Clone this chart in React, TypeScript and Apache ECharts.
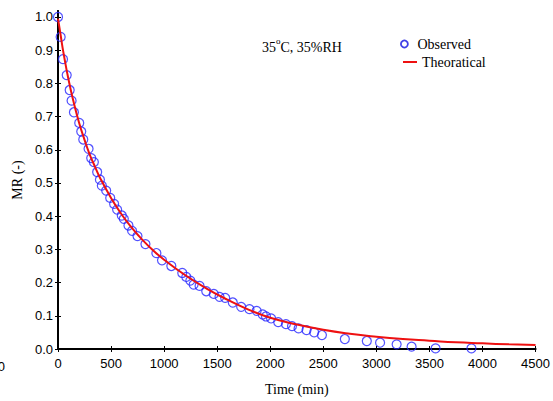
import React, { useEffect, useRef } from "react";
import * as echarts from "echarts";

const obsTime = [0, 25, 47, 82, 110, 128, 150, 200, 219, 238, 288, 313, 338, 369, 395, 413, 454, 492, 529, 557, 601, 620, 664, 698, 749, 824, 927, 980, 1068, 1171, 1209, 1247, 1278, 1334, 1397, 1468, 1522, 1575, 1647, 1726, 1804, 1872, 1929, 1960, 2008, 2075, 2148, 2205, 2267, 2342, 2414, 2487, 2703, 2910, 3035, 3191, 3332, 3558, 3896];
const obsMR = [1.0, 0.94, 0.873, 0.825, 0.78, 0.748, 0.713, 0.681, 0.655, 0.631, 0.603, 0.575, 0.563, 0.533, 0.51, 0.492, 0.477, 0.455, 0.437, 0.42, 0.402, 0.392, 0.372, 0.356, 0.34, 0.316, 0.289, 0.267, 0.25, 0.229, 0.217, 0.206, 0.194, 0.19, 0.174, 0.166, 0.157, 0.154, 0.14, 0.127, 0.12, 0.115, 0.104, 0.098, 0.092, 0.081, 0.075, 0.069, 0.062, 0.057, 0.05, 0.042, 0.03, 0.024, 0.019, 0.014, 0.007, 0.002, 0.002];

const fitTime = [0, 25, 50, 100, 150, 200, 250, 300, 350, 400, 500, 600, 700, 800, 900, 1000, 1200, 1400, 1600, 1800, 2000, 2250, 2500, 2750, 3000, 3250, 3500, 3750, 4000, 4250, 4500];
const fitMR = [0.995, 0.945, 0.895, 0.81, 0.74, 0.68, 0.63, 0.585, 0.548, 0.513, 0.455, 0.405, 0.363, 0.327, 0.296, 0.269, 0.222, 0.182, 0.148, 0.118, 0.094, 0.074, 0.058, 0.046, 0.037, 0.030, 0.025, 0.020, 0.017, 0.014, 0.012];

const xTicks = [0, 500, 1000, 1500, 2000, 2500, 3000, 3500, 4000, 4500];
const yTicks = [0, 0.1, 0.2, 0.3, 0.4, 0.5, 0.6, 0.7, 0.8, 0.9, 1.0];

const BLUE = "#2626ff";
const RED = "#ee1111";
const SERIF = "'Liberation Serif', 'Times New Roman', serif";
const SANS = "'Liberation Sans', Arial, sans-serif";

export default function App() {
  const ref = useRef<HTMLDivElement>(null);
  useEffect(() => {
    if (!ref.current) return;
    const chart = echarts.init(ref.current, undefined, { renderer: "svg" });
    const axisLine = { show: true, lineStyle: { color: "#000", width: 2 } };
    chart.setOption({
      animation: false,
      backgroundColor: "#fff",
      grid: { left: 58, right: 16, top: 11, bottom: 50 },
      xAxis: [
        {
          type: "value",
          min: 0,
          max: 4500,
          interval: 500,
          position: "bottom",
          name: "Time (min)",
          nameLocation: "middle",
          nameGap: 33,
          nameTextStyle: { fontFamily: SERIF, fontSize: 14, color: "#000" },
          axisLine,
          axisTick: { show: true, inside: true, length: 3, lineStyle: { color: "#000" }, customValues: xTicks },
          axisLabel: {
            fontFamily: SANS,
            fontSize: 13,
            color: "#000",
            margin: 8,
            customValues: xTicks,
            formatter: (v: number) => String(v),
          },
          splitLine: { show: false },
        },
        {
          type: "value",
          min: 0,
          max: 4500,
          interval: 500,
          position: "top",
          axisLine: { show: true, lineStyle: { color: "#000", width: 1.5 } },
          axisTick: { show: true, inside: true, length: 3, lineStyle: { color: "#000" }, customValues: xTicks },
          axisLabel: { show: false },
          splitLine: { show: false },
        },
      ],
      yAxis: [
        {
          type: "value",
          min: 0,
          max: 1.018,
          position: "left",
          name: "MR (-)",
          nameLocation: "middle",
          nameGap: 34,
          nameTextStyle: { fontFamily: SERIF, fontSize: 14, color: "#000" },
          axisLine,
          axisTick: { show: true, inside: true, length: 3, lineStyle: { color: "#000" }, customValues: yTicks },
          axisLabel: {
            fontFamily: SANS,
            fontSize: 13,
            color: "#000",
            margin: 5,
            customValues: yTicks,
            formatter: (v: number) => v.toFixed(1),
          },
          splitLine: { show: false },
        },
        {
          type: "value",
          min: 0,
          max: 1.018,
          position: "right",
          axisLine,
          axisTick: { show: true, inside: true, length: 3, lineStyle: { color: "#000" }, customValues: yTicks },
          axisLabel: { show: false },
          splitLine: { show: false },
        },
      ],
      legend: [
        {
          data: [
            {
              name: "Observed",
              icon: "circle",
              itemStyle: { color: "rgba(0,0,0,0)", borderColor: "#1010e0", borderWidth: 1.8 },
            },
          ],
          left: 400,
          top: 37,
          itemWidth: 16,
          itemHeight: 7,
          padding: 0,
          textStyle: { fontFamily: SERIF, fontSize: 14, color: "#000" },
        },
        {
          data: [{ name: "Theoratical", icon: "rect", itemStyle: { color: RED } }],
          left: 403,
          top: 55,
          itemWidth: 14,
          itemHeight: 2,
          padding: 0,
          textStyle: { fontFamily: SERIF, fontSize: 14, color: "#000" },
        },
      ],
      graphic: [
        {
          type: "text",
          left: 262,
          top: 36,
          style: {
            text: "{m|35}{sup|o}{m|C, 35%RH}",
            fontFamily: SERIF,
            fontSize: 14,
            fill: "#000",
            rich: {
              m: { fontFamily: SERIF, fontSize: 14, lineHeight: 18, verticalAlign: "bottom" },
              sup: { fontFamily: SERIF, fontSize: 9, lineHeight: 10, verticalAlign: "top" },
            },
          },
        },
        {
          type: "text",
          x: 5,
          y: 366,
          style: { text: "00", fontFamily: SANS, fontSize: 13, fill: "#000", align: "right", verticalAlign: "middle" },
        },
      ],
      series: [
        {
          name: "Observed",
          type: "scatter",
          data: obsTime.map((t, i) => [t, obsMR[i]]),
          symbol: "circle",
          symbolSize: 9,
          itemStyle: { color: "rgba(0,0,0,0)", borderColor: BLUE, borderWidth: 1.2 },
          z: 2,
        },
        {
          name: "Theoratical",
          type: "line",
          data: fitTime.map((t, i) => [t, fitMR[i]]),
          smooth: true,
          showSymbol: false,
          lineStyle: { color: RED, width: 2 },
          itemStyle: { color: RED },
          z: 3,
        },
      ],
    });
    return () => chart.dispose();
  }, []);
  return <div ref={ref} style={{ position: "fixed", left: 0, top: 0, width: 553, height: 401 }} />;
}
